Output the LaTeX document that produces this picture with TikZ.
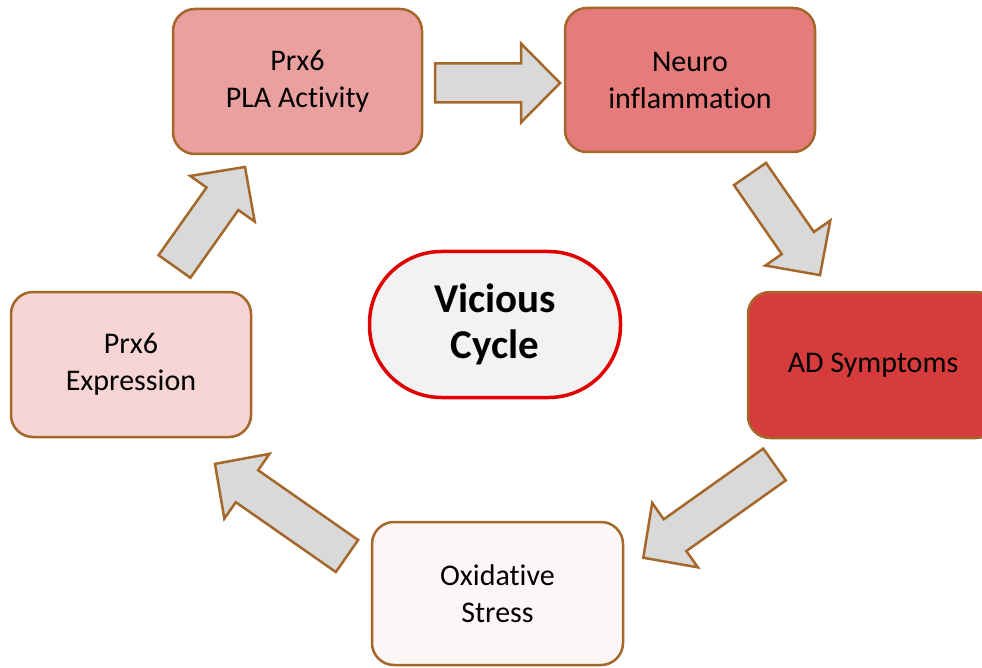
\documentclass[tikz,border=0pt]{standalone}
\usepackage{fontspec}
\setmainfont[Ligatures=NoCommon]{Carlito}
\definecolor{brd}{HTML}{A5682A}
\definecolor{cpla}{HTML}{EBA0A0}
\definecolor{cneuro}{HTML}{E57B7B}
\definecolor{cad}{HTML}{D63C3C}
\definecolor{cexpr}{HTML}{F7D5D5}
\definecolor{cox}{HTML}{FDF6F6}
\definecolor{carr}{HTML}{D9D9D9}
\definecolor{cvc}{HTML}{F2F2F2}
\definecolor{cvcb}{HTML}{E00000}
\begin{document}
\begin{tikzpicture}[x=1pt,y=-1pt,
  box/.style={draw=brd, line width=2.5pt, rounded corners=22pt, align=center,
    font=\fontsize{30}{37}\selectfont, inner sep=0pt},
  arrstyle/.style={draw=brd, fill=carr, line width=2.5pt, line join=miter},
  pics/blockarr/.style={code={
    \draw[arrstyle] (0,-19.5) -- ({#1-39},-19.5) -- ({#1-39},-39.5) -- (#1,0)
      -- ({#1-39},39.5) -- ({#1-39},19.5) -- (0,19.5) -- cycle;}}]
\useasboundingbox (0,0) rectangle (982,668);
\clip (0,0) rectangle (982,668);
\fill[white] (0,0) rectangle (982,668);

\node[box, fill=cpla, minimum width=249pt, minimum height=145pt] (pla) at (297.5,81.5) {Prx6\\PLA Activity};
\node[box, fill=cneuro, minimum width=250pt, minimum height=144pt] (neuro) at (690,80) {Neuro\\inflammation};
\node[box, fill=cad, minimum width=250pt, minimum height=146pt] (ad) at (873,365) {AD Symptoms};
\node[box, fill=cexpr, minimum width=240pt, minimum height=145pt] (expr) at (131,364.5) {Prx6\\Expression};
\node[box, fill=cox, minimum width=251pt, minimum height=143pt] (ox) at (497.5,593.5) {Oxidative\\Stress};
\node[draw=cvcb, fill=cvc, line width=3.5pt, rounded corners=72pt, align=center,
  minimum width=251pt, minimum height=146pt, inner sep=0pt,
  font=\bfseries\fontsize{41}{46}\selectfont] (vc) at (495,324.5) {Vicious\\Cycle};

\coordinate (t1) at (435,83);
\coordinate (t2) at (750,174);
\coordinate (t3) at (774.5,464.5);
\coordinate (t4) at (347,556);
\coordinate (t5) at (174.5,266.5);
\pic at (t1) {blockarr=125};
\pic[rotate=-55.3] at (t2) {blockarr=123};
\pic[rotate=-144.6] at (t3) {blockarr=161};
\pic[rotate=145.1] at (t4) {blockarr=161};
\pic[rotate=54.7] at (t5) {blockarr=122};
\end{tikzpicture}
\end{document}
